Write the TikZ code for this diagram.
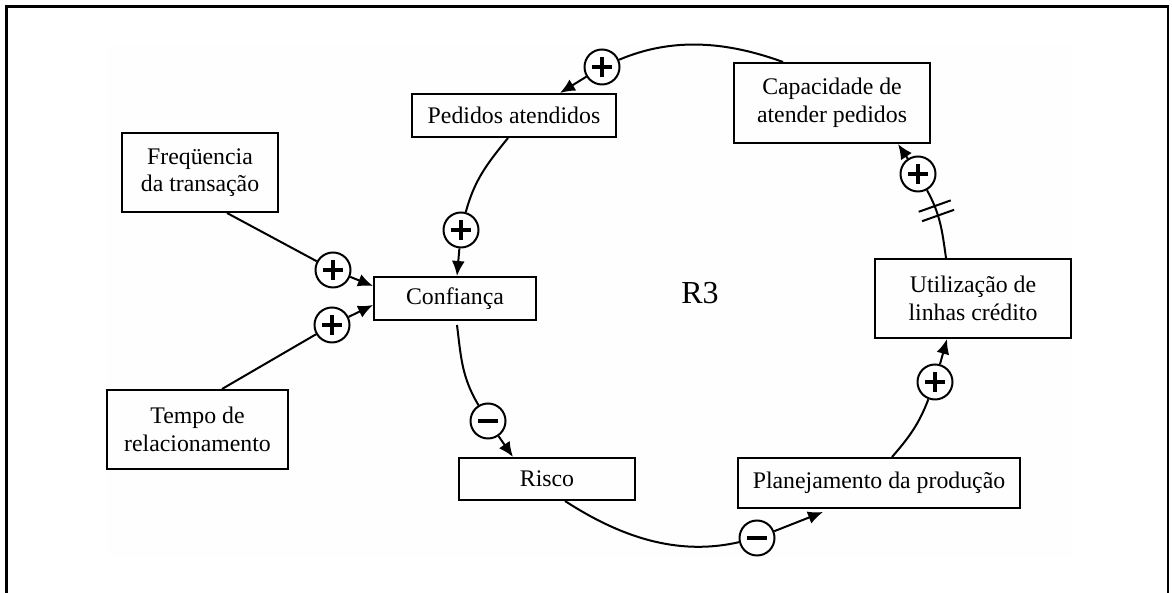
\documentclass[tikz,border=0pt]{standalone}
\usepackage{fontspec}
\setmainfont{Liberation Serif}
\usetikzlibrary{arrows.meta,calc,decorations.markings}

\begin{document}
\begin{tikzpicture}[x=1pt,y=1pt,
  box/.style={draw, line width=2pt, align=center, inner sep=0pt,
    font=\fontsize{23.8}{27.5}\selectfont},
  link/.style={line width=2pt},
  arr/.style={line width=2pt, -{Latex[length=15pt,width=13pt]}},
  sign/.style={circle, draw, line width=2pt, minimum size=35pt, inner sep=0pt, fill=white},
  plus/.style={sign, path picture={
    \draw[line width=3.8pt]
      ([xshift=-10pt]path picture bounding box.center) -- ([xshift=10pt]path picture bounding box.center)
      ([yshift=-10pt]path picture bounding box.center) -- ([yshift=10pt]path picture bounding box.center);}},
  minus/.style={sign, path picture={
    \draw[line width=4.2pt]
      ([xshift=-10pt]path picture bounding box.center) -- ([xshift=10pt]path picture bounding box.center);}},
  delay/.style={postaction={decorate}, decoration={markings,
    mark=at position 0.68 with {\draw[line width=2pt] (-5pt,-17pt) -- (-5pt,17pt) (5pt,-17pt) -- (5pt,17pt);}}},
]
\useasboundingbox (0,0) rectangle (1172,593);

% page frame and faint panel
\fill[black!0.4] (107,36) rectangle (1072,548);
\draw[line width=3pt] (6.5,0) -- (6.5,586.5) -- (1168,586.5);
\draw[line width=2pt] (1168,588) -- (1168,0);

% variables
\node[box, minimum width=156pt, minimum height=79pt] (freq) at (200,420.5) {Freqüencia\\da transação};
\node[box, minimum width=181pt, minimum height=79pt] (tempo) at (197.5,163.5) {Tempo de\\relacionamento};
\node[box, minimum width=162pt, minimum height=43pt] (conf) at (455,294.5) {Confiança};
\node[box, minimum width=204pt, minimum height=43pt] (ped) at (514,477.5) {Pedidos atendidos};
\node[box, minimum width=196pt, minimum height=80pt] (cap) at (832,490) {Capacidade de\\atender pedidos};
\node[box, minimum width=196pt, minimum height=79pt] (util) at (973,294.5) {Utilização de\\linhas crédito};
\node[box, minimum width=282pt, minimum height=50pt] (plan) at (879,110) {Planejamento da produção};
\node[box, minimum width=176pt, minimum height=42pt] (risco) at (547,114) {Risco};
\node[font=\fontsize{32}{36}\selectfont] (r3) at (700,300) {R3};

% polarity markers
\node[plus]  (s1) at (333,323) {};
\node[plus]  (s2) at (332,268) {};
\node[plus]  (s3) at (461,363) {};
\node[minus] (s4) at (488,172) {};
\node[minus] (s5) at (757,55) {};
\node[plus]  (s6) at (935,211) {};
\node[plus]  (s7) at (918,419) {};
\node[plus]  (s8) at (602,526) {};

% external influences on trust
\draw[link] ([xshift=27pt]freq.south) -- (s1);
\draw[arr] (s1) -- ([yshift=12.5pt]conf.west);
\draw[link] ([xshift=24.5pt]tempo.north) -- (s2);
\draw[arr] (s2) -- ([yshift=-6.5pt]conf.west);

% reinforcing loop R3
\draw[link] ([xshift=-49pt]cap.north) to[out=160,in=23,looseness=0.92] (s8);
\draw[arr] (s8) -- ([xshift=46pt]ped.north);
\draw[link] ([xshift=-6pt]ped.south) to[out=231,in=75] (s3);
\draw[arr] (s3) -- ([xshift=2pt]conf.north);
\draw[link] ([xshift=2pt,yshift=-4pt]conf.south) to[out=277,in=121] (s4);
\draw[arr] (s4) -- ([xshift=-34pt]risco.north);
\draw[link] ([xshift=18pt]risco.south) to[out=327,in=193,looseness=0.92] (s5);
\draw[arr] (s5) -- ([xshift=-56pt,yshift=-3pt]plan.south);
\draw[link] ([xshift=13pt]plan.north) to[out=49,in=249] (s6);
\draw[arr] (s6) -- ([xshift=-26pt]util.south);
\draw[link, delay] ([xshift=-27pt]util.north) to[out=98,in=299] (s7);
\draw[arr] (s7) -- ([xshift=66pt]cap.south);
\end{tikzpicture}
\end{document}
